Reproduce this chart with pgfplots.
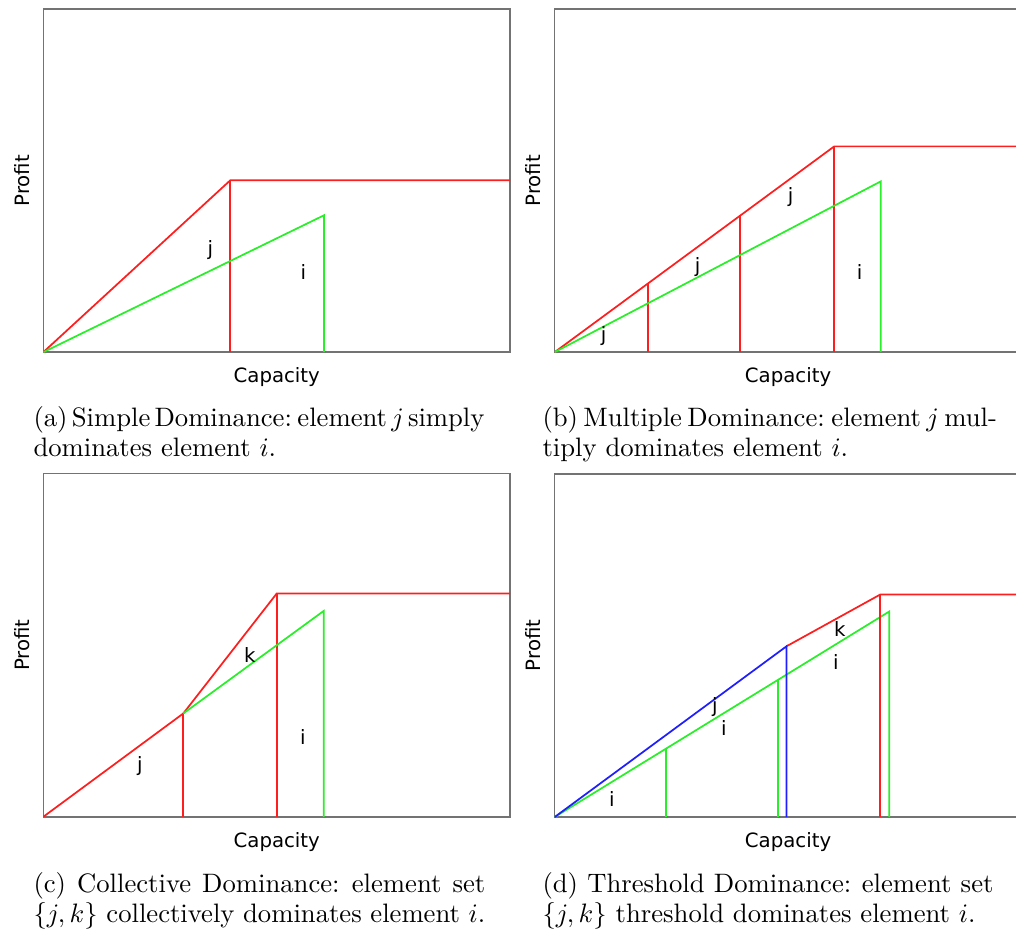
\documentclass[border=0pt]{standalone}
\usepackage{fontspec}
\usepackage{pgfplots}
\pgfplotsset{compat=1.18}
\newfontfamily\dejavu{DejaVu Sans}
\definecolor{lr}{RGB}{255,30,30}
\definecolor{lg}{RGB}{40,240,40}
\definecolor{lb}{RGB}{30,30,255}
\tikzset{lab/.style={font=\dejavu\fontsize{7.4}{9}\selectfont, anchor=center, inner sep=0pt},
  captxt/.style={anchor=base west, inner sep=0pt}}
\pgfplotsset{
  dom/.style={scale only axis, width=175.1pt, height=128.7pt,
    xmin=0, xmax=467, ymin=0, ymax=343.5, ticks=none,
    axis line style={draw=black!55, line width=0.55pt},
    xlabel=Capacity, ylabel=Profit,
    label style={font=\dejavu\fontsize{7.4}{9}\selectfont},
    xlabel style={at={(axis description cs:0.5,-0.073)}, anchor=center},
    ylabel style={at={(axis description cs:-0.046,0.5)}, anchor=center},
    every axis plot/.append style={line width=0.65pt}
  }
}
\newcommand{\jline}[2]{{\spaceskip=3.33pt plus 2pt minus 2.4pt\xspaceskip=3.8pt plus 2pt minus 2.4pt\hbox to #1{#2}}}
\begin{document}
\begin{tikzpicture}[x=0.375pt, y=0.375pt]
% (a) Simple dominance
\begin{axis}[dom, at={(43.3,581.3)}, anchor=south west]
\addplot[lr] coordinates {(0,0) (187,172) (467,172)};
\addplot[lr] coordinates {(187,0) (187,172)};
\addplot[lg] coordinates {(0,0) (280.7,137) (280.7,0)};
\node[lab] at (167,102) {j};
\node[lab] at (260,80) {i};
\end{axis}
% (b) Multiple dominance
\begin{axis}[dom, at={(554.7,581.3)}, anchor=south west]
\addplot[lr] coordinates {(0,0) (279.7,206) (467,206)};
\addplot[lr] coordinates {(93.3,0) (93.3,68.7)};
\addplot[lr] coordinates {(185.7,0) (185.7,136.8)};
\addplot[lr] coordinates {(279.7,0) (279.7,206)};
\addplot[lg] coordinates {(0,0) (326.3,171) (326.3,0)};
\node[lab] at (49,16) {j};
\node[lab] at (143,85) {j};
\node[lab] at (236,155) {j};
\node[lab] at (305,80) {i};
\end{axis}
% (c) Collective dominance
\begin{axis}[dom, at={(43.3,116.3)}, anchor=south west]
\addplot[lr] coordinates {(0,0) (140,103.4) (233.4,223.4) (467,223.4)};
\addplot[lr] coordinates {(140,0) (140,103.4)};
\addplot[lr] coordinates {(233.4,0) (233.4,223.4)};
\addplot[lg] coordinates {(140,103.4) (280.4,206) (280.4,0)};
\node[lab] at (96.7,50.5) {j};
\node[lab] at (206.7,161.5) {k};
\node[lab] at (259.7,79.5) {i};
\end{axis}
% (d) Threshold dominance
\begin{axis}[dom, at={(554.7,116)}, anchor=south west]
\addplot[lg] coordinates {(0,0) (334.6,205.7) (334.6,0)};
\addplot[lg] coordinates {(111.3,0) (111.3,68.4)};
\addplot[lg] coordinates {(223.3,0) (223.3,137.3)};
\addplot[lr] coordinates {(232,171) (325.6,222.7) (467,222.7)};
\addplot[lr] coordinates {(325.6,0) (325.6,222.7)};
\addplot[lb] coordinates {(0,0) (232,171) (232,0)};
\node[lab] at (160.3,110.5) {j};
\node[lab] at (169.3,89.5) {i};
\node[lab] at (57.3,18.5) {i};
\node[lab] at (285.3,188.5) {k};
\node[lab] at (281.3,155.5) {i};
\end{axis}
% captions
\node[captxt] at (33,506.3) {\jline{169.1pt}{(a) Simple Dominance: element $j$ simply}};
\node[captxt] at (33,476.3) {dominates element $i$.};
\node[captxt] at (542,506.3) {\jline{170.4pt}{(b) Multiple Dominance: element $j$ mul-}};
\node[captxt] at (542,476.3) {tiply dominates element $i$.};
\node[captxt] at (33,40.5) {\jline{169.4pt}{(c) Collective Dominance: element set}};
\node[captxt] at (33,10) {\jline{169.4pt}{$\{j,k\}$ collectively dominates element $i$.}};
\node[captxt] at (542,40.5) {\jline{169.1pt}{(d) Threshold Dominance: element set}};
\node[captxt] at (542,10) {$\{j,k\}$ threshold dominates element $i$.};
\pgfresetboundingbox
\useasboundingbox (0,0) rectangle (1016,933);
\end{tikzpicture}
\end{document}
